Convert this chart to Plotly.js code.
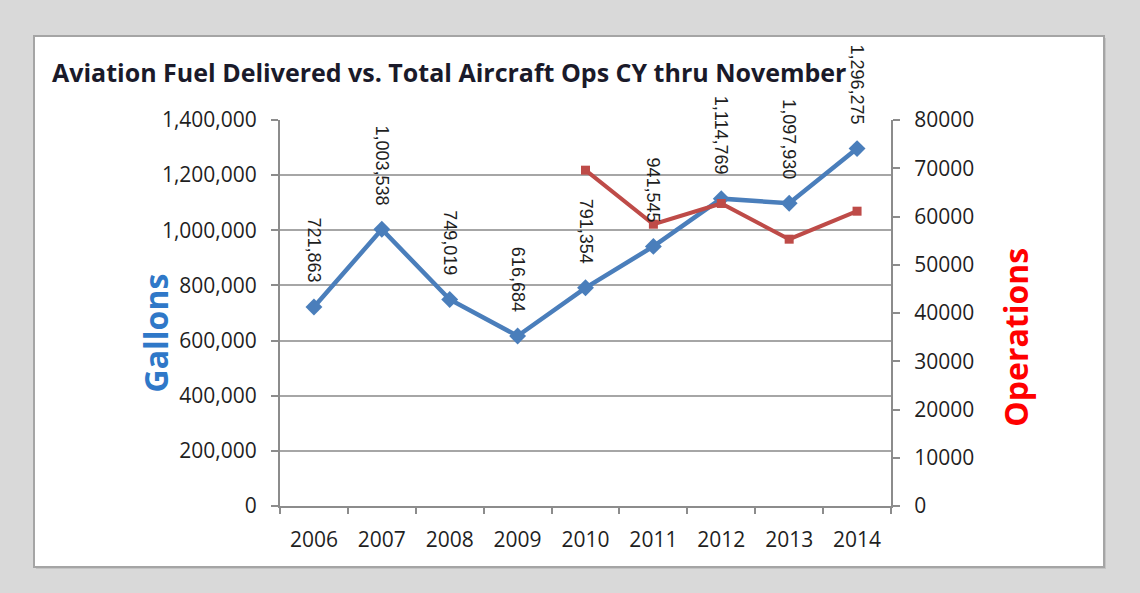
<!DOCTYPE html>
<html>
<head>
<meta charset="utf-8">
<script src="https://cdn.plot.ly/plotly-3.0.1.min.js"></script>
<style>
html,body{margin:0;padding:0;background:#d9d9d9;}
#chart{width:1140px;height:593px;}
</style>
</head>
<body>
<div id="chart"></div>
<script>
// ---- data ----
const years = ["2006","2007","2008","2009","2010","2011","2012","2013","2014"];
const gallons = [721863, 1003538, 749019, 616684, 791354, 941545, 1114769, 1097930, 1296275];
const gallonLabels = ["721,863","1,003,538","749,019","616,684","791,354","941,545","1,114,769","1,097,930","1,296,275"];
const opsYears = ["2010","2011","2012","2013","2014"];
const operations = [69600, 58400, 62700, 55300, 61100];
const gallonTicks = [0,200000,400000,600000,800000,1000000,1200000,1400000];
const opsTicks = [0,10000,20000,30000,40000,50000,60000,70000,80000];

const blue = '#4a7ebb';
const red = '#be4b48';
const tickFont = {family:'Open Sans, sans-serif', size:21, color:'#1f1f1f'};

const traces = [
  {
    x: years, y: gallons, type:'scatter', mode:'lines+markers', name:'Gallons',
    line:{color:blue, width:4.5},
    marker:{symbol:'diamond', size:13, color:blue},
    yaxis:'y', cliponaxis:false
  },
  {
    x: opsYears, y: operations, type:'scatter', mode:'lines+markers', name:'Operations',
    line:{color:red, width:4},
    marker:{symbol:'square', size:9, color:red},
    yaxis:'y2', cliponaxis:false
  }
];

const annotations = years.map((yr,i)=>({
  x: years.indexOf(yr), y: gallons[i], xref:'x', yref:'y',
  text: gallonLabels[i], textangle:90, showarrow:false,
  xanchor:'center', yanchor:'bottom', yshift:22,
  font:{family:'Liberation Sans, Arial, sans-serif', size:18, color:'#1e1e1e'}
}));
annotations.push({
  xref:'paper', yref:'paper', x:0, y:0.447, xshift:-125, xanchor:'center', yanchor:'middle',
  text:'<b>Gallons</b>', textangle:-90, showarrow:false,
  font:{family:'Open Sans, sans-serif', size:32, color:'#2f78c8'}
});
annotations.push({
  xref:'paper', yref:'paper', x:1, y:0.436, xshift:125, xanchor:'center', yanchor:'middle',
  text:'<b>Operations</b>', textangle:-90, showarrow:false,
  font:{family:'Open Sans, sans-serif', size:32, color:'#ff0000'}
});

const layout = {
  width:1140, height:593,
  margin:{l:280, r:249, t:120, b:87, pad:0},
  paper_bgcolor:'#d9d9d9', plot_bgcolor:'#ffffff',
  showlegend:false,
  title:{
    text:'<b>Aviation Fuel Delivered vs. Total Aircraft Ops CY thru November</b>',
    xref:'container', yref:'container', x:52/1140, xanchor:'left',
    y:1-73/593, yanchor:'middle',
    font:{family:'Open Sans, sans-serif', size:25, color:'#1a1a2a'}
  },
  xaxis:{
    type:'category', range:[-0.5, 8.5], tickson:'boundaries',
    ticks:'outside', ticklen:6, tickcolor:'#8c8c8c', tickwidth:2,
    showline:true, linecolor:'#8c8c8c', linewidth:2,
    showgrid:false, tickfont:tickFont, ticklabelstandoff:14, fixedrange:true, zeroline:false
  },
  yaxis:{
    range:[0,1400000], tickvals:gallonTicks, tickformat:',d',
    ticks:'outside', ticklen:7, tickcolor:'#8c8c8c', tickwidth:2,
    showline:true, linecolor:'#8c8c8c', linewidth:2,
    showgrid:true, gridcolor:'#a6a6a6', gridwidth:2,
    zeroline:false, tickfont:tickFont, ticklabelstandoff:10, fixedrange:true
  },
  yaxis2:{
    overlaying:'y', side:'right', range:[0,80000], tickvals:opsTicks, tickformat:'d',
    ticks:'outside', ticklen:7, tickcolor:'#8c8c8c', tickwidth:2,
    showline:true, linecolor:'#8c8c8c', linewidth:2,
    showgrid:false, zeroline:false, tickfont:tickFont, ticklabelstandoff:10, fixedrange:true
  },
  shapes:[
    {type:'rect', xref:'paper', yref:'paper', layer:'below',
     x0:(36-280)/611, x1:(1106-280)/611, y0:(506-569)/386, y1:(506-38)/386,
     line:{width:0}, fillcolor:'#c4c4c4'},
    {type:'rect', xref:'paper', yref:'paper', layer:'below',
     x0:(34-280)/611, x1:(1104-280)/611, y0:(506-567)/386, y1:(506-36)/386,
     line:{color:'#a5a5a5', width:2}, fillcolor:'#ffffff'}
  ],
  annotations: annotations
};

Plotly.newPlot('chart', traces, layout, {displayModeBar:false, staticPlot:true});
</script>
</body>
</html>
